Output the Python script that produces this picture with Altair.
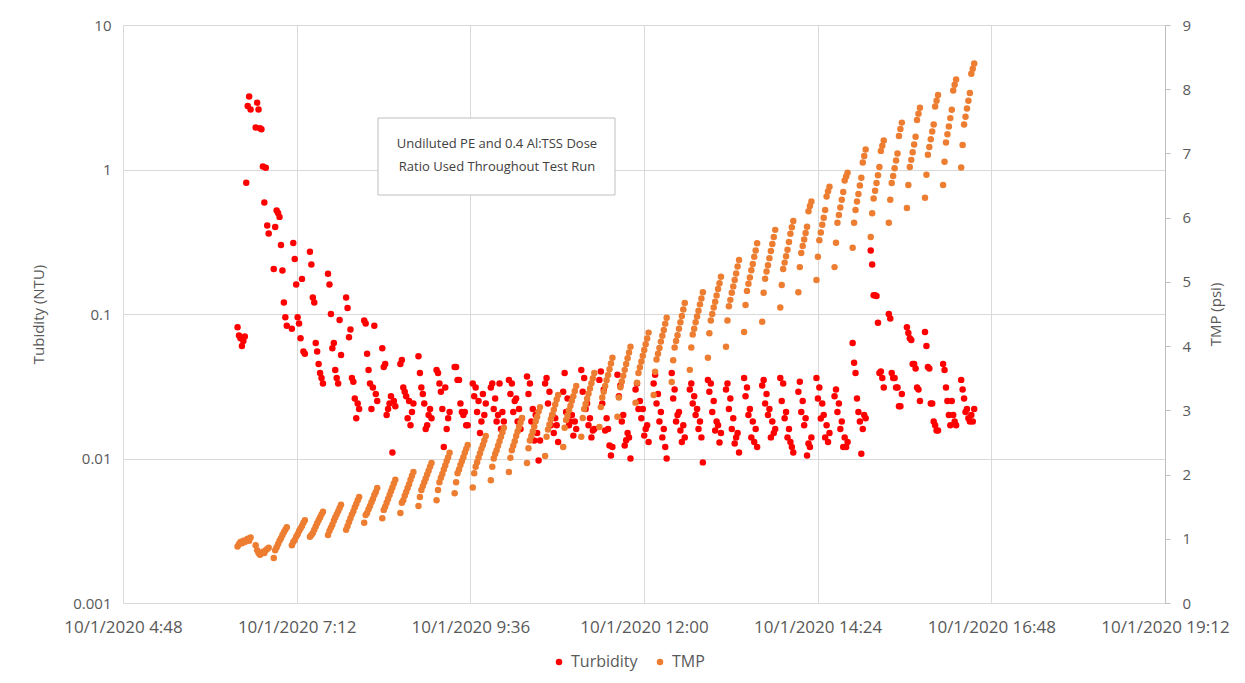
import altair as alt
import pandas as pd

# ---------------- data ----------------
# filtration cycles (one every 15 min); each cycle sampled at the offsets below
CYCLE_STARTS = [
    "06:23", "06:38", "06:53", "07:08", "07:23", "07:38", "07:53", "08:08", "08:23", "08:38",
    "08:53", "09:08", "09:23", "09:38", "09:53", "10:08", "10:23", "10:38", "10:53", "11:08",
    "11:23", "11:38", "11:53", "12:08", "12:23", "12:38", "12:53", "13:08", "13:23", "13:38",
    "13:53", "14:08", "14:23", "14:38", "14:53", "15:08", "15:23", "15:38", "15:53", "16:08",
    "16:23",
]
SAMPLE_OFFSETS_MIN = [0.0, 1.2, 2.4, 3.6, 4.8, 6.0, 7.2, 8.4, 9.6, 10.8]

TMP_PSI = [
    [0.88, 0.92, 0.95, 0.93, 0.97, 0.95, 0.98, 1.00, 0.97, 1.02],
    [0.90, 0.82, 0.78, 0.75, 0.77, 0.80, 0.78, 0.82, 0.84, 0.86],
    [0.70, 0.82, 0.87, 0.92, 0.97, 1.01, 1.06, 1.10, 1.14, 1.18],
    [0.90, 0.95, 0.98, 1.03, 1.07, 1.12, 1.16, 1.20, 1.25, 1.29],
    [1.03, 1.06, 1.09, 1.14, 1.19, 1.24, 1.29, 1.33, 1.38, 1.42],
    [1.06, 1.12, 1.17, 1.22, 1.28, 1.33, 1.38, 1.43, 1.48, 1.53],
    [1.14, 1.20, 1.26, 1.32, 1.38, 1.43, 1.49, 1.54, 1.60, 1.65],
    [1.25, 1.37, 1.40, 1.46, 1.51, 1.57, 1.62, 1.68, 1.73, 1.79],
    [1.32, 1.45, 1.50, 1.56, 1.62, 1.68, 1.74, 1.80, 1.86, 1.92],
    [1.40, 1.56, 1.60, 1.67, 1.73, 1.79, 1.85, 1.92, 1.98, 2.04],
    [1.51, 1.65, 1.76, 1.82, 1.88, 1.94, 2.00, 2.06, 2.12, 2.18],
    [1.60, 1.76, 1.88, 1.95, 2.01, 2.08, 2.14, 2.21, 2.27, 2.34],
    [1.71, 1.88, 2.02, 2.08, 2.15, 2.21, 2.27, 2.34, 2.40, 2.46],
    [1.80, 2.02, 2.12, 2.19, 2.26, 2.33, 2.40, 2.46, 2.53, 2.60],
    [1.91, 2.12, 2.25, 2.32, 2.38, 2.45, 2.52, 2.59, 2.66, 2.73],
    [2.04, 2.26, 2.38, 2.45, 2.52, 2.60, 2.67, 2.74, 2.81, 2.88],
    [2.18, 2.41, 2.53, 2.60, 2.67, 2.75, 2.83, 2.90, 2.98, 3.05],
    [2.29, 2.59, 2.70, 2.78, 2.86, 2.93, 3.01, 3.09, 3.17, 3.24],
    [2.43, 2.73, 2.85, 2.92, 3.00, 3.07, 3.15, 3.22, 3.30, 3.38],
    [2.59, 2.88, 3.02, 3.10, 3.18, 3.26, 3.34, 3.42, 3.50, 3.58],
    [2.74, 3.05, 3.20, 3.29, 3.38, 3.47, 3.55, 3.64, 3.73, 3.82],
    [2.90, 3.20, 3.36, 3.45, 3.54, 3.63, 3.72, 3.81, 3.90, 3.99],
    [3.12, 3.43, 3.58, 3.67, 3.76, 3.85, 3.94, 4.03, 4.12, 4.21],
    [3.24, 3.60, 3.79, 3.88, 3.97, 4.07, 4.16, 4.25, 4.35, 4.44],
    [3.44, 3.78, 3.98, 4.08, 4.17, 4.27, 4.37, 4.47, 4.57, 4.67],
    [3.63, 3.98, 4.18, 4.27, 4.37, 4.46, 4.55, 4.65, 4.74, 4.84],
    [3.82, 4.20, 4.40, 4.50, 4.60, 4.69, 4.79, 4.89, 4.98, 5.08],
    [3.99, 4.40, 4.62, 4.72, 4.83, 4.93, 5.03, 5.13, 5.24, 5.34],
    [4.22, 4.64, 4.86, 4.97, 5.07, 5.18, 5.28, 5.39, 5.49, 5.60],
    [4.38, 4.83, 5.05, 5.16, 5.26, 5.37, 5.48, 5.59, 5.70, 5.81],
    [4.60, 4.95, 5.20, 5.30, 5.40, 5.50, 5.62, 5.75, 5.85, 5.95],
    [4.84, 5.23, 5.45, 5.56, 5.66, 5.76, 5.86, 6.10, 6.18, 6.25],
    [5.03, 5.39, 5.65, 5.77, 5.89, 6.00, 6.12, 6.33, 6.41, 6.48],
    [5.23, 5.61, 5.92, 6.04, 6.16, 6.28, 6.40, 6.58, 6.64, 6.70],
    [5.53, 5.92, 6.12, 6.25, 6.37, 6.50, 6.62, 6.86, 6.96, 7.06],
    [5.70, 6.07, 6.30, 6.42, 6.54, 6.66, 6.79, 7.04, 7.12, 7.20],
    [5.92, 6.28, 6.54, 6.65, 6.77, 6.89, 7.00, 7.27, 7.38, 7.48],
    [6.15, 6.51, 6.79, 6.90, 7.02, 7.14, 7.26, 7.52, 7.62, 7.71],
    [6.31, 6.67, 6.98, 7.10, 7.22, 7.34, 7.45, 7.73, 7.82, 7.91],
    [6.51, 6.87, 7.17, 7.30, 7.42, 7.55, 7.68, 7.98, 8.07, 8.15],
    [6.78, 7.13, 7.45, 7.57, 7.70, 7.82, 7.94, 8.24, 8.32, 8.40],
]

TURBIDITY_NTU = [
    [0.081, 0.071, 0.068, 0.060, 0.065, 0.070, 0.81, 2.75, 3.2, 2.6],
    [1.95, 2.9, 2.6, 1.93, 1.9, 1.05, 0.59, 1.03, 0.41, 0.36],
    [0.205, 0.40, 0.52, 0.50, 0.47, 0.30, 0.20, 0.12, 0.095, 0.083],
    [0.079, 0.31, 0.24, 0.16, 0.095, 0.086, 0.068, 0.175, 0.055, 0.053],
    [0.27, 0.22, 0.13, 0.12, 0.063, 0.055, 0.045, 0.039, 0.036, 0.033],
    [0.19, 0.16, 0.10, 0.058, 0.063, 0.041, 0.036, 0.033, 0.091, 0.052],
    [0.13, 0.11, 0.069, 0.078, 0.036, 0.034, 0.026, 0.019, 0.024, 0.022],
    [0.09, 0.086, 0.053, 0.041, 0.033, 0.022, 0.031, 0.083, 0.028, 0.025],
    [0.058, 0.043, 0.045, 0.020, 0.022, 0.024, 0.027, 0.011, 0.025, 0.023],
    [0.045, 0.048, 0.031, 0.029, 0.027, 0.019, 0.025, 0.017, 0.021, 0.024],
    [0.051, 0.039, 0.031, 0.028, 0.024, 0.016, 0.017, 0.020, 0.022, 0.019],
    [0.041, 0.039, 0.033, 0.029, 0.022, 0.012, 0.031, 0.016, 0.019, 0.021],
    [0.043, 0.043, 0.035, 0.035, 0.024, 0.021, 0.020, 0.021, 0.017, 0.017],
    [0.033, 0.027, 0.031, 0.021, 0.025, 0.015, 0.018, 0.028, 0.020, 0.024],
    [0.031, 0.033, 0.022, 0.026, 0.018, 0.020, 0.033, 0.016, 0.021, 0.018],
    [0.035, 0.028, 0.033, 0.021, 0.025, 0.026, 0.018, 0.022, 0.016, 0.019],
    [0.037, 0.028, 0.033, 0.018, 0.022, 0.0133, 0.020, 0.015, 0.0097, 0.0133],
    [0.033, 0.036, 0.024, 0.029, 0.017, 0.020, 0.015, 0.019, 0.017, 0.013],
    [0.029, 0.039, 0.021, 0.026, 0.017, 0.018, 0.020, 0.0144, 0.018, 0.016],
    [0.041, 0.029, 0.036, 0.022, 0.024, 0.017, 0.019, 0.014, 0.0156, 0.016],
    [0.035, 0.040, 0.024, 0.030, 0.0156, 0.019, 0.016, 0.0123, 0.0105, 0.012],
    [0.038, 0.027, 0.032, 0.018, 0.020, 0.0123, 0.0134, 0.015, 0.014, 0.010],
    [0.030, 0.033, 0.022, 0.025, 0.019, 0.022, 0.0144, 0.016, 0.017, 0.013],
    [0.033, 0.038, 0.024, 0.028, 0.018, 0.021, 0.014, 0.016, 0.012, 0.010],
    [0.039, 0.026, 0.030, 0.018, 0.020, 0.021, 0.0156, 0.013, 0.017, 0.014],
    [0.030, 0.033, 0.024, 0.027, 0.020, 0.022, 0.016, 0.018, 0.014, 0.0094],
    [0.035, 0.029, 0.033, 0.021, 0.025, 0.0156, 0.018, 0.017, 0.0129, 0.015],
    [0.030, 0.033, 0.022, 0.026, 0.016, 0.019, 0.0127, 0.014, 0.015, 0.011],
    [0.036, 0.027, 0.031, 0.020, 0.022, 0.014, 0.018, 0.013, 0.016, 0.012],
    [0.032, 0.035, 0.024, 0.028, 0.020, 0.022, 0.014, 0.018, 0.015, 0.016],
    [0.036, 0.025, 0.033, 0.019, 0.021, 0.014, 0.016, 0.013, 0.012, 0.011],
    [0.029, 0.034, 0.021, 0.025, 0.017, 0.019, 0.0105, 0.0127, 0.012, 0.014],
    [0.036, 0.026, 0.031, 0.0189, 0.024, 0.020, 0.014, 0.017, 0.013, 0.015],
    [0.027, 0.030, 0.021, 0.024, 0.016, 0.018, 0.012, 0.014, 0.012, 0.013],
    [0.063, 0.046, 0.039, 0.026, 0.021, 0.018, 0.0108, 0.016, 0.020, 0.019],
    [0.275, 0.22, 0.135, 0.135, 0.133, 0.087, 0.039, 0.040, 0.036, 0.031],
    [0.10, 0.093, 0.039, 0.036, 0.036, 0.031, 0.031, 0.023, 0.023, 0.028],
    [0.081, 0.074, 0.068, 0.066, 0.045, 0.045, 0.042, 0.031, 0.030, 0.025],
    [0.075, 0.060, 0.043, 0.042, 0.024, 0.024, 0.018, 0.017, 0.0156, 0.0156],
    [0.045, 0.041, 0.031, 0.025, 0.020, 0.017, 0.025, 0.020, 0.018, 0.017],
    [0.035, 0.030, 0.026, 0.021, 0.022, 0.019, 0.018, 0.020, 0.018, 0.022],
]

RUN_DATE = "2020-10-01"
X_DOMAIN = [(4, 48), (19, 12)]
X_TICKS = [(4, 48), (7, 12), (9, 36), (12, 0), (14, 24), (16, 48), (19, 12)]
LEFT_TICKS = [0.001, 0.01, 0.1, 1, 10]
RIGHT_TICKS = [0, 1, 2, 3, 4, 5, 6, 7, 8, 9]
SERIES = ["Turbidity", "TMP"]
COLORS = ["#ff0000", "#ed7d31"]
NOTE_LINES = ["Undiluted PE  and 0.4 Al:TSS Dose", "Ratio Used Throughout Test Run"]

# ---------------- build tables ----------------
rows_tmp, rows_turb = [], []
for start, tmp_vals, turb_vals in zip(CYCLE_STARTS, TMP_PSI, TURBIDITY_NTU):
    t0 = pd.Timestamp(RUN_DATE + " " + start)
    for off, p, n in zip(SAMPLE_OFFSETS_MIN, tmp_vals, turb_vals):
        t = (t0 + pd.Timedelta(minutes=off)).strftime("%Y-%m-%dT%H:%M:%S")
        rows_tmp.append({"time": t, "value": p, "series": "TMP"})
        rows_turb.append({"time": t, "value": n, "series": "Turbidity"})
df_tmp = pd.DataFrame(rows_tmp)
df_turb = pd.DataFrame(rows_turb)


def dt(h, m):
    return alt.DateTime(year=2020, month=10, date=1, hours=h, minutes=m)


FONT = "Open Sans"
GRAY_TXT = "#595959"
GRID = "#d9d9d9"
W, H = 1042, 578

x_enc = alt.X(
    "time:T",
    scale=alt.Scale(domain=[dt(*X_DOMAIN[0]), dt(*X_DOMAIN[1])], nice=False),
    axis=alt.Axis(
        values=[dt(h, m) for h, m in X_TICKS],
        format="%-m/%-d/%Y %-H:%M",
        title=None,
        grid=True,
        gridColor=GRID,
        domainColor=GRID,
        ticks=False,
        labelPadding=16,
        labelFlush=False,
        labelOverlap=False,
        labelFontSize=17,
        labelColor=GRAY_TXT,
    ),
)

color_enc = alt.Color(
    "series:N",
    scale=alt.Scale(domain=SERIES, range=COLORS),
    legend=alt.Legend(
        orient="none",
        legendX=428,
        legendY=629,
        direction="horizontal",
        title=None,
        symbolType="circle",
        symbolSize=42,
        labelFontSize=16,
        labelColor=GRAY_TXT,
        labelFont=FONT,
        columnPadding=14,
    ),
)

turb = alt.Chart(df_turb).mark_circle(size=42, opacity=1).encode(
    x=x_enc,
    y=alt.Y(
        "value:Q",
        scale=alt.Scale(type="log", domain=[0.001, 10]),
        axis=alt.Axis(
            values=LEFT_TICKS,
            format="~g",
            title="Tubidity (NTU)",
            titleX=-85,
            titleY=H / 2,
            titleBaseline="middle",
            titleFontSize=15,
            titleFontWeight="normal",
            titleColor=GRAY_TXT,
            grid=True,
            gridColor=GRID,
            domainColor=GRID,
            ticks=False,
            labelPadding=12,
            labelFontSize=15,
            labelColor=GRAY_TXT,
        ),
    ),
    color=color_enc,
)

tmp = alt.Chart(df_tmp).mark_circle(size=42, opacity=1).encode(
    x=x_enc,
    y=alt.Y(
        "value:Q",
        scale=alt.Scale(domain=[0, 9], nice=False),
        axis=alt.Axis(
            orient="right",
            values=RIGHT_TICKS,
            title="TMP (psi)",
            titleX=50,
            titleY=H / 2,
            titleAngle=270,
            titleBaseline="middle",
            titleFontSize=15,
            titleFontWeight="normal",
            titleColor=GRAY_TXT,
            grid=False,
            domainColor="#bfbfbf",
            ticks=True,
            tickSize=5,
            tickColor="#bfbfbf",
            labelPadding=12,
            labelFontSize=15,
            labelColor=GRAY_TXT,
        ),
    ),
    color=color_enc,
)

one = pd.DataFrame({"k": [0]})
box = alt.Chart(one).mark_rect(fill="white", stroke="#bfbfbf", strokeWidth=1).encode(
    x=alt.value(255), x2=alt.value(492), y=alt.value(93), y2=alt.value(170)
)
note1 = alt.Chart(one).mark_text(
    text=NOTE_LINES[0], font=FONT, fontSize=13, color="#404040", align="center", baseline="middle"
).encode(x=alt.value(374), y=alt.value(119))
note2 = alt.Chart(one).mark_text(
    text=NOTE_LINES[1], font=FONT, fontSize=13, color="#404040", align="center", baseline="middle"
).encode(x=alt.value(374), y=alt.value(142))

chart = (
    alt.layer(turb, tmp, box, note1, note2)
    .resolve_scale(y="independent")
    .properties(
        width=W,
        height=H,
        padding={"left": 115, "top": 17, "right": 72, "bottom": 72},
        autosize=alt.AutoSizeParams(type="none"),
    )
    .configure_axis(labelFont=FONT, titleFont=FONT)
    .configure_view(strokeWidth=0)
)

chart.save("out.html", embed_options={"renderer": "svg", "actions": False})
